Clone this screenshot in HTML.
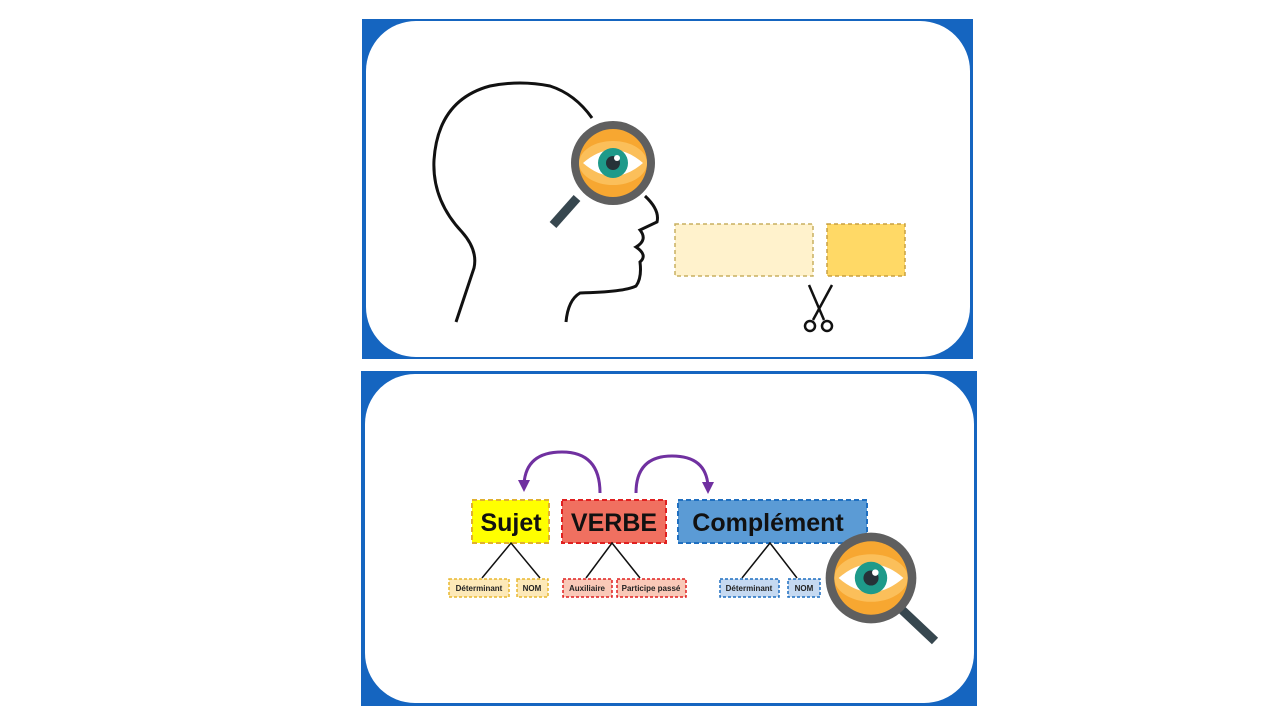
<!DOCTYPE html>
<html><head><meta charset="utf-8"><style>
html,body{margin:0;padding:0;background:#fff;width:1280px;height:720px;overflow:hidden}
svg{display:block}
text{font-family:"Liberation Sans",sans-serif;font-weight:bold}
</style></head><body>
<svg width="1280" height="720" viewBox="0 0 1280 720">
<defs>
<g id="eye">
<circle r="42" fill="#5f5f5f"/>
<circle r="34" fill="#f7a731"/>
<ellipse rx="34" ry="22" fill="#fbbf5a"/>
<path d="M-30,0 Q0,-26 30,0 Q0,26 -30,0Z" fill="#fff"/>
<circle r="15" fill="#1e9a8a"/>
<circle r="7" fill="#263238"/>
<circle cx="4" cy="-5" r="3" fill="#fff"/>
</g>
</defs>
<!-- top panel -->
<rect x="362" y="19" width="611" height="340" fill="#1565c0"/>
<rect x="366" y="21" width="604" height="336" rx="50" fill="#fff"/>
<!-- head -->
<path d="M456,322 L474,268 Q478,250 462,232 Q432,200 434,160 Q438,100 490,86 Q520,80 550,86 Q575,94 592,118" fill="none" stroke="#111" stroke-width="3"/>
<path d="M645,196 Q660,210 657,222 L640,230 Q648,240 636,247 Q648,255 640,262 Q642,278 636,286 Q625,292 580,293 Q568,300 566,322" fill="none" stroke="#111" stroke-width="3"/>
<line x1="577" y1="198" x2="553" y2="225" stroke="#37474f" stroke-width="9"/>
<use href="#eye" transform="translate(613,163)"/>
<rect x="675" y="224" width="138" height="52" fill="#fff2cc" stroke="#c8b060" stroke-width="1.5" stroke-dasharray="4,3"/>
<rect x="827" y="224" width="78" height="52" fill="#ffd966" stroke="#c8a040" stroke-width="1.5" stroke-dasharray="4,3"/>
<!-- scissors -->
<g stroke="#111" fill="none" stroke-width="2.5">
<path d="M809,285 L824,320" /><path d="M832,285 L813,320"/>
<circle cx="810" cy="326" r="5"/><circle cx="827" cy="326" r="5"/>
</g>
<!-- bottom panel -->
<rect x="361" y="371" width="616" height="335" fill="#1565c0"/>
<rect x="365" y="374" width="609" height="329" rx="50" fill="#fff"/>
<!-- arrows -->
<path d="M600,493 Q600,452 562,452 Q526,452 524,484" fill="none" stroke="#7030a0" stroke-width="3"/>
<path d="M518,480 L524,492 L530,480Z" fill="#7030a0"/>
<path d="M636,493 Q636,456 672,456 Q706,456 708,486" fill="none" stroke="#7030a0" stroke-width="3"/>
<path d="M702,482 L708,494 L714,482Z" fill="#7030a0"/>
<!-- main boxes -->
<rect x="472" y="500" width="77" height="43" fill="#ffff00" stroke="#e0b030" stroke-width="2" stroke-dasharray="5,3"/>
<text x="511" y="531" font-size="25" text-anchor="middle" fill="#111">Sujet</text>
<rect x="562" y="500" width="104" height="43" fill="#f07060" stroke="#e02020" stroke-width="2" stroke-dasharray="5,3"/>
<text x="614" y="531" font-size="25" text-anchor="middle" fill="#111">VERBE</text>
<rect x="678" y="500" width="189" height="43" fill="#5b9bd5" stroke="#1f6fc0" stroke-width="2" stroke-dasharray="5,3"/>
<text x="768" y="531" font-size="25" text-anchor="middle" fill="#111">Complément</text>
<!-- lines -->
<g stroke="#111" stroke-width="1.5" fill="none">
<path d="M482,578 L511,543 L540,578"/>
<path d="M586,578 L612,543 L640,578"/>
<path d="M742,578 L770,543 L797,578"/>
</g>
<!-- sub boxes -->
<g stroke-width="1.5" stroke-dasharray="3,2">
<rect x="449" y="579" width="60" height="18" fill="#fde9b8" stroke="#e8b830"/>
<rect x="517" y="579" width="31" height="18" fill="#fde9b8" stroke="#e8b830"/>
<rect x="563" y="579" width="49" height="18" fill="#f9c9b8" stroke="#e02020"/>
<rect x="617" y="579" width="69" height="18" fill="#f9c9b8" stroke="#e02020"/>
<rect x="720" y="579" width="59" height="18" fill="#c5d9f1" stroke="#1f6fc0"/>
<rect x="788" y="579" width="32" height="18" fill="#c5d9f1" stroke="#1f6fc0"/>
</g>
<g font-size="8" text-anchor="middle" fill="#222">
<text x="479" y="591">Déterminant</text>
<text x="532" y="591">NOM</text>
<text x="587" y="591">Auxiliaire</text>
<text x="651" y="591">Participe passé</text>
<text x="749" y="591">Déterminant</text>
<text x="804" y="591">NOM</text>
</g>
<line x1="900" y1="608" x2="935" y2="641" stroke="#37474f" stroke-width="9"/>
<use href="#eye" transform="translate(871,578) scale(1.08)"/>
</svg>
</body></html>
